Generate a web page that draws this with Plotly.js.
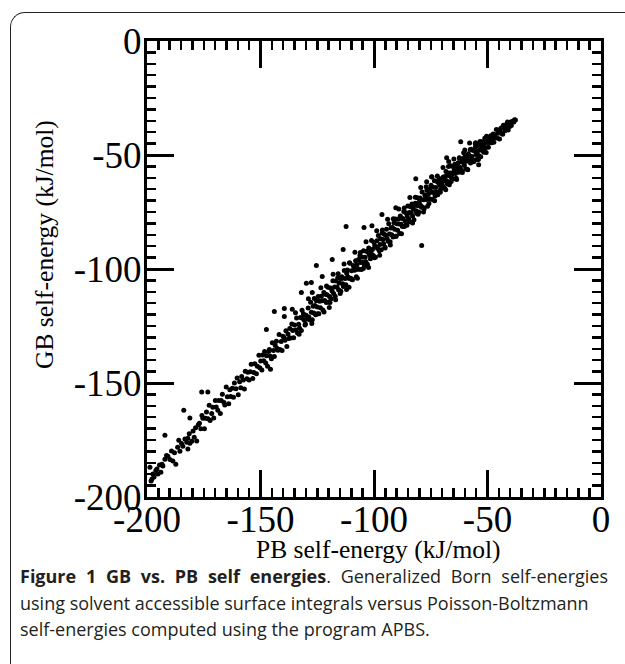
<!DOCTYPE html>
<html>
<head>
<meta charset="utf-8">
<script src="https://cdn.plot.ly/plotly-3.0.1.min.js"></script>
<style>
  html, body { margin:0; padding:0; background:#fff; width:625px; height:664px; overflow:hidden; }
  #frame { position:absolute; left:10px; top:12px; width:720px; height:720px;
           border-left:1.6px solid #222; border-top:1.6px solid #222; border-top-left-radius:15px; }
  #chart { position:absolute; left:0; top:0; width:625px; height:664px; }
  #caption { position:absolute; left:20px; top:563px; width:588px;
             font-family:'Open Sans', sans-serif; font-size:18px; line-height:26.5px; color:#231f20; }
  #caption .l1 { text-align:justify; text-align-last:justify; }
</style>
</head>
<body>
<div id="frame"></div>
<div id="chart"></div>
<div id="caption">
  <div class="l1"><b>Figure 1 GB vs. PB self energies</b>. Generalized Born self-energies</div>
  <div>using solvent accessible surface integrals versus Poisson-Boltzmann</div>
  <div>self-energies computed using the program APBS.</div>
</div>
<script>
// PB self-energy (x) and GB self-energy (y), kJ/mol
const pbEnergy = [
-198.7,-198.2,-197.8,-197.4,-196.9,-196.1,-195.6,-195.2,-194.5,-193.9,-193.4,-193.0,-192.1,-192.1,-191.4,-190.8,-189.9,-189.2,-188.6,-187.9,
-187.3,-186.5,-186.0,-185.5,-184.8,-184.2,-183.8,-183.3,-182.5,-182.0,-182.0,-181.4,-181.1,-181.1,-180.3,-179.7,-179.2,-178.6,-178.1,-177.4,
-176.9,-176.3,-175.8,-175.4,-174.7,-174.2,-173.8,-173.1,-172.6,-172.2,-171.5,-171.0,-170.6,-169.9,-169.5,-168.8,-168.4,-167.7,-167.3,-166.8,
-166.1,-165.7,-165.1,-164.6,-164.0,-163.5,-163.1,-162.4,-161.9,-161.5,-160.8,-160.3,-159.8,-159.2,-158.7,-158.3,-157.6,-157.1,-156.7,-156.0,
-155.6,-155.0,-154.5,-154.1,-153.4,-152.9,-152.5,-151.8,-151.4,-150.7,-150.3,
-149.9,-149.4,-149.1,-148.6,-148.2,-147.7,-147.3,-146.9,-146.4,-146.1,-145.6,-145.2,-144.8,-144.3,-143.9,-143.5,-143.0,-142.6,-142.3,-141.8,
-141.4,-140.9,-140.5,-140.1,-139.7,-139.2,-138.8,-138.4,-137.9,-137.6,-137.1,-136.7,-136.2,-135.8,-135.4,-135.0,-134.5,-134.1,-133.7,-133.2,
-132.8,-132.4,-132.0,-131.5,-131.1,-130.7,-130.2,-129.9,-129.4,
-129.0,-128.7,-128.3,-127.9,-127.6,-127.2,-126.8,-126.5,-126.1,-125.7,-125.4,-125.0,-124.6,-124.3,-123.9,-123.6,-123.2,-122.8,-122.5,-122.1,
-121.7,-121.4,-121.0,-120.7,-120.3,-119.9,-119.6,-119.2,-118.9,-118.5,-118.1,-117.8,-117.4,-117.1,-116.7,-116.3,-116.0,-115.6,-115.3,-114.9,
-114.5,-114.2,-113.8,-113.5,-113.1,-112.7,-112.4,-112.0,-111.7,-111.3,-110.9,-110.6,-110.2,-109.9,-109.5,
-109.1,-108.8,-108.5,-108.1,-107.8,-107.5,-107.2,-106.8,-106.5,-106.2,-105.9,-105.5,-105.2,-104.9,-104.6,-104.2,-103.9,-103.6,-103.3,-102.9,
-102.6,-102.3,-102.0,-101.6,-101.3,-101.0,-100.7,-100.3,-100.0,-99.7,-99.4,-99.0,-98.7,-98.4,-98.1,-97.7,-97.4,-97.1,-96.8,-96.4,
-96.1,-95.8,-95.5,-95.1,-94.8,-94.5,-94.2,-93.8,-93.5,-93.2,-92.9,-92.5,-92.2,-91.9,-91.6,-91.2,-90.9,-90.6,-90.3,-89.9,-89.6,-89.3,
-89.0,-88.7,-88.4,-88.1,-87.8,-87.5,-87.2,-86.9,-86.6,-86.3,-86.0,-85.7,-85.4,-85.1,-84.8,-84.5,-84.2,-83.9,-83.6,-83.3,
-83.0,-82.7,-82.4,-82.1,-81.8,-81.5,-81.2,-80.9,-80.6,-80.3,-80.0,-79.7,-79.4,-79.1,-78.8,-78.5,-78.2,-77.9,-77.6,-77.3,
-77.0,-76.7,-76.4,-76.1,-75.8,-75.5,-75.2,-74.9,-74.6,-74.3,-74.0,-73.7,-73.4,-73.1,-72.8,-72.5,-72.2,-71.9,-71.6,-71.3,
-71.0,-70.7,-70.4,-70.1,
-69.8,-69.5,-69.2,-68.9,-68.6,-68.3,-68.0,-67.7,-67.4,-67.1,-66.8,-66.5,-66.2,-65.9,-65.6,-65.3,-65.0,-64.7,-64.4,-64.1,
-63.8,-63.5,-63.2,-62.9,-62.6,-62.3,-62.0,-61.7,-61.4,-61.1,-60.8,-60.5,-60.2,-59.9,-59.6,-59.3,-59.0,-58.7,-58.4,-58.1,
-57.8,-57.5,-57.2,-56.9,-56.6,-56.3,-56.0,-55.7,-55.4,-55.1,-54.8,-54.5,-54.2,-53.9,-53.6,-53.3,-53.0,-52.7,-52.4,-52.1,
-51.8,-51.5,-51.2,-50.9,-50.6,-50.3,
-50.0,-49.6,-49.3,-48.9,-48.6,-48.2,-47.9,-47.5,-47.2,-46.8,-46.5,-46.1,-45.8,-45.4,-45.1,-44.7,-44.4,-44.0,-43.7,-43.3,
-43.0,-42.6,-42.3,-41.9,-41.6,-41.2,-40.9,-40.5,-40.2,-39.8,-39.5,-39.1,-38.8,-38.4,-38.1,-37.7,
-175.9,-173.2,-147.4,-145.6,-143.9,-139.5,-136.0,-139.5,-129.8,-125.4,-118.4,-113.6,-112.3,-104.4,-100.9,-96.5,-90.4,-81.6,-79.0,-76.8,
-74.6,-68.0,-67.1,-61.8,-57.9,-55.3,-53.9,-60.5,-111.0,-119.7,-127.6,-122.8,-132.0,-127.2,
-134.6,-133.0,-131.7,-130.4,-128.9,-127.4,-126.3,-124.9,-123.4,-122.0,-120.9,-119.4,-118.0,-116.9,-115.8,-114.6,-113.2,-112.1,-110.8,-109.6,
-108.4,-107.3,-106.0,-104.7,-103.5,-102.4,-101.1,-99.9,-98.8,-97.5,-96.3,-95.2,-94.0,-92.8,-91.5,-90.3,-89.1,-87.9,-86.7,-85.5,
-84.2,-83.0,-81.8,-80.6,-79.4,-78.2,-77.0,-75.8,-74.5,-73.3,-72.1,-70.8,-69.6,-68.4,-67.2,-66.0,-64.8,-63.6,-62.4,-61.2,
-60.0,-58.8,-57.6,-56.4,-55.2,-54.0,-52.8,-51.6,-50.4
];
const gbEnergy = [
-186.9,-193.0,-192.1,-189.9,-191.2,-188.4,-187.7,-189.9,-186.0,-189.1,-185.6,-186.4,-183.4,-172.9,-181.8,-182.1,-183.6,-179.8,-184.2,-180.6,
-185.6,-178.2,-175.1,-179.9,-176.5,-177.7,-161.9,-174.6,-176.0,-174.2,-179.0,-172.3,-176.4,-165.4,-175.5,-171.0,-173.8,-169.6,-175.4,-168.3,
-167.6,-170.1,-164.2,-165.5,-170.1,-165.5,-162.7,-165.7,-159.8,-166.5,-163.4,-160.6,-165.4,-157.7,-160.5,-161.9,-157.7,-163.4,-157.7,-154.9,
-158.5,-159.7,-151.8,-156.0,-159.1,-153.0,-155.9,-152.3,-156.3,-150.0,-152.5,-147.8,-155.1,-149.4,-152.1,-147.1,-148.7,-152.6,-144.9,-148.1,
-145.3,-148.7,-145.1,-141.8,-148.0,-145.4,-141.6,-145.9,-142.6,-137.8,-143.3,
-140.4,-144.3,-137.7,-140.2,-136.2,-141.2,-138.1,-142.7,-136.2,-135.3,-138.3,-139.4,-132.4,-135.8,-138.4,-133.5,-131.7,-134.9,-135.6,-128.7,
-135.3,-131.8,-135.7,-129.5,-130.0,-131.2,-127.1,-134.0,-128.5,-130.5,-126.1,-130.3,-124.1,-127.0,-130.1,-124.6,-126.7,-121.5,-128.1,-124.2,
-126.0,-121.3,-127.0,-121.6,-119.6,-122.5,-124.1,-120.3,-121.9,
-117.1,-121.1,-122.3,-114.6,-119.0,-122.3,-116.3,-119.3,-116.0,-120.1,-113.9,-116.7,-112.1,-119.6,-114.1,-117.0,-112.0,-113.9,-118.0,-110.3,
-113.8,-111.1,-114.7,-111.3,-108.0,-114.5,-112.1,-108.3,-113.0,-109.7,-105.2,-110.8,-107.9,-112.0,-105.3,-107.9,-104.0,-109.1,-106.1,-110.7,
-104.3,-103.4,-106.5,-107.7,-100.7,-104.2,-106.9,-102.0,-100.4,-103.6,-104.2,-97.5,-104.1,-100.8,-104.7,
-98.5,-99.1,-100.5,-96.4,-103.4,-98.1,-100.1,-95.8,-100.1,-94.1,-97.1,-100.2,-94.8,-97.1,-92.0,-98.6,-94.9,-96.8,-92.2,-97.9,
-92.7,-90.8,-93.8,-95.5,-91.7,-93.5,-91.4,-94.1,-88.4,-89.8,-94.8,-90.3,-87.6,-91.0,-85.3,-92.0,-89.3,-86.7,-91.6,-84.2,
-87.1,-88.9,-84.8,-90.8,-85.2,-82.6,-86.6,-87.8,-80.2,-84.6,-88.0,-82.0,-85.0,-81.8,-86.0,-79.7,-82.6,-78.1,-85.6,-80.1,-83.0,-78.1,
-80.3,-84.4,-76.8,-80.4,-77.7,-81.4,-78.0,-74.8,-81.4,-79.0,-75.3,-80.0,-76.8,-72.4,-78.0,-75.2,-79.3,-72.7,-75.4,-71.5,
-76.7,-73.7,-78.4,-72.1,-71.2,-74.4,-75.6,-68.7,-72.3,-75.0,-70.5,-68.9,-72.2,-72.9,-66.2,-72.9,-69.6,-73.6,-67.5,-68.1,
-69.5,-65.5,-72.5,-67.2,-69.2,-65.0,-69.3,-63.3,-66.3,-69.5,-64.1,-66.4,-61.3,-68.0,-64.3,-66.2,-61.6,-67.4,-62.2,-60.3,
-63.3,-65.1,-61.3,-63.1,
-63.5,-59.6,-61.4,-64.5,-59.4,-57.2,-61.3,-62.6,-57.9,-59.0,-63.0,-57.9,-54.7,-60.0,-58.3,-55.0,-60.4,-56.8,-54.1,-58.1,
-60.2,-55.0,-56.1,-53.4,-57.6,-51.4,-55.5,-56.6,-53.1,-57.7,-51.6,-52.8,-54.5,-50.7,-56.0,-52.7,-50.9,-56.5,-49.5,-52.5,
-50.6,-53.5,-47.5,-50.7,-51.9,-48.0,-52.8,-47.9,-45.0,-49.8,-52.0,-48.2,-45.8,-50.2,-47.9,-44.1,-50.8,-46.0,-47.3,-44.3,
-48.4,-45.5,-42.6,-46.8,-48.9,-43.0,
-44.5,-46.6,-43.0,-44.5,-41.6,-44.6,-42.8,-40.8,-44.4,-41.1,-42.4,-38.8,-42.5,-40.5,-39.0,-43.0,-39.8,-38.2,-40.6,-40.9,
-37.0,-38.2,-39.4,-36.7,-37.8,-35.5,-39.0,-36.4,-37.5,-35.5,-37.1,-35.3,-35.3,-35.5,-34.5,-34.6,
-154.0,-154.0,-126.5,-144.0,-118.6,-117.3,-117.7,-120.8,-106.3,-98.5,-95.8,-91.5,-81.4,-81.8,-81.0,-76.1,-73.1,-60.4,-89.7,-61.7,
-59.5,-51.2,-52.9,-44.2,-44.7,-46.4,-54.3,-49.0,-108.0,-116.9,-105.9,-103.3,-110.3,-110.3,
-119.2,-128.6,-118.1,-124.6,-113.1,-123.9,-112.9,-119.6,-108.2,-118.9,-107.5,-114.7,-102.3,-113.5,-102.1,-109.8,-97.8,-109.0,-97.3,-104.6,
-92.6,-104.1,-92.8,-99.8,-88.0,-99.3,-87.5,-95.1,-83.2,-94.0,-82.9,-90.3,-78.2,-89.5,-78.0,-85.6,-73.7,-84.5,-73.3,-80.8,
-68.6,-79.8,-68.5,-76.0,-64.3,-75.0,-63.9,-71.3,-59.6,-70.1,-59.2,-66.3,-55.5,-65.2,-55.0,-61.6,-51.8,-60.8,-51.2,-57.2,
-47.8,-56.4,-47.6,-53.0,-44.6,-52.0,-44.2,-48.8,-41.8
];
const tickValues = [-200, -150, -100, -50, 0];
const tickLabels = ['-200', '-150', '-100', '-50', '0'];
const axisRange = [-200, 0];
const minorStep = 5;
const xTitle = 'PB self-energy (kJ/mol)';
const yTitle = 'GB self-energy (kJ/mol)';

const serif = 'Liberation Serif, Times New Roman, serif';
function majorAxis(standoff) {
  return {
    range: axisRange, tickmode: 'array', tickvals: tickValues, ticktext: tickLabels,
    ticks: 'inside', ticklen: 27, tickwidth: 3, tickcolor: '#000',
    showline: true, linewidth: 3, linecolor: '#000', mirror: 'allticks',
    showgrid: false, zeroline: false, fixedrange: true, ticklabelstandoff: standoff,
    tickfont: { family: serif, size: 37, color: '#000' }
  };
}
function minorAxis(over, anchor) {
  return {
    range: axisRange, overlaying: over, anchor: anchor, tickmode: 'linear', tick0: 0, dtick: minorStep,
    ticks: 'inside', ticklen: 9, tickwidth: 2.5, tickcolor: '#000',
    showline: false, mirror: 'allticks', showticklabels: false,
    showgrid: false, zeroline: false, fixedrange: true
  };
}

const points = {
  x: pbEnergy, y: gbEnergy, type: 'scatter', mode: 'markers',
  marker: { size: 5, color: '#000' }, hoverinfo: 'skip'
};
const minorHolder = { x: [], y: [], xaxis: 'x2', yaxis: 'y2', type: 'scatter', mode: 'markers', hoverinfo: 'skip' };

const layout = {
  width: 625, height: 664,
  margin: { l: 147, r: 24, t: 41, b: 167, pad: 0 },
  paper_bgcolor: 'rgba(0,0,0,0)', plot_bgcolor: 'rgba(0,0,0,0)',
  showlegend: false,
  xaxis: majorAxis(-12), yaxis: majorAxis(-5),
  xaxis2: minorAxis('x', 'y2'), yaxis2: minorAxis('y', 'x2'),
  annotations: [
    { text: xTitle, xref: 'paper', yref: 'paper', x: 0.5, y: 0, xanchor: 'center', yanchor: 'middle',
      xshift: 4, yshift: -52, showarrow: false, font: { family: serif, size: 25.5, color: '#000' } },
    { text: yTitle, xref: 'paper', yref: 'paper', x: 0, y: 0.5, xanchor: 'center', yanchor: 'middle',
      xshift: -103, yshift: 24, textangle: -90, showarrow: false, font: { family: serif, size: 25.5, color: '#000' } }
  ]
};
Plotly.newPlot('chart', [points, minorHolder], layout, { staticPlot: true, displayModeBar: false });
</script>
</body>
</html>
